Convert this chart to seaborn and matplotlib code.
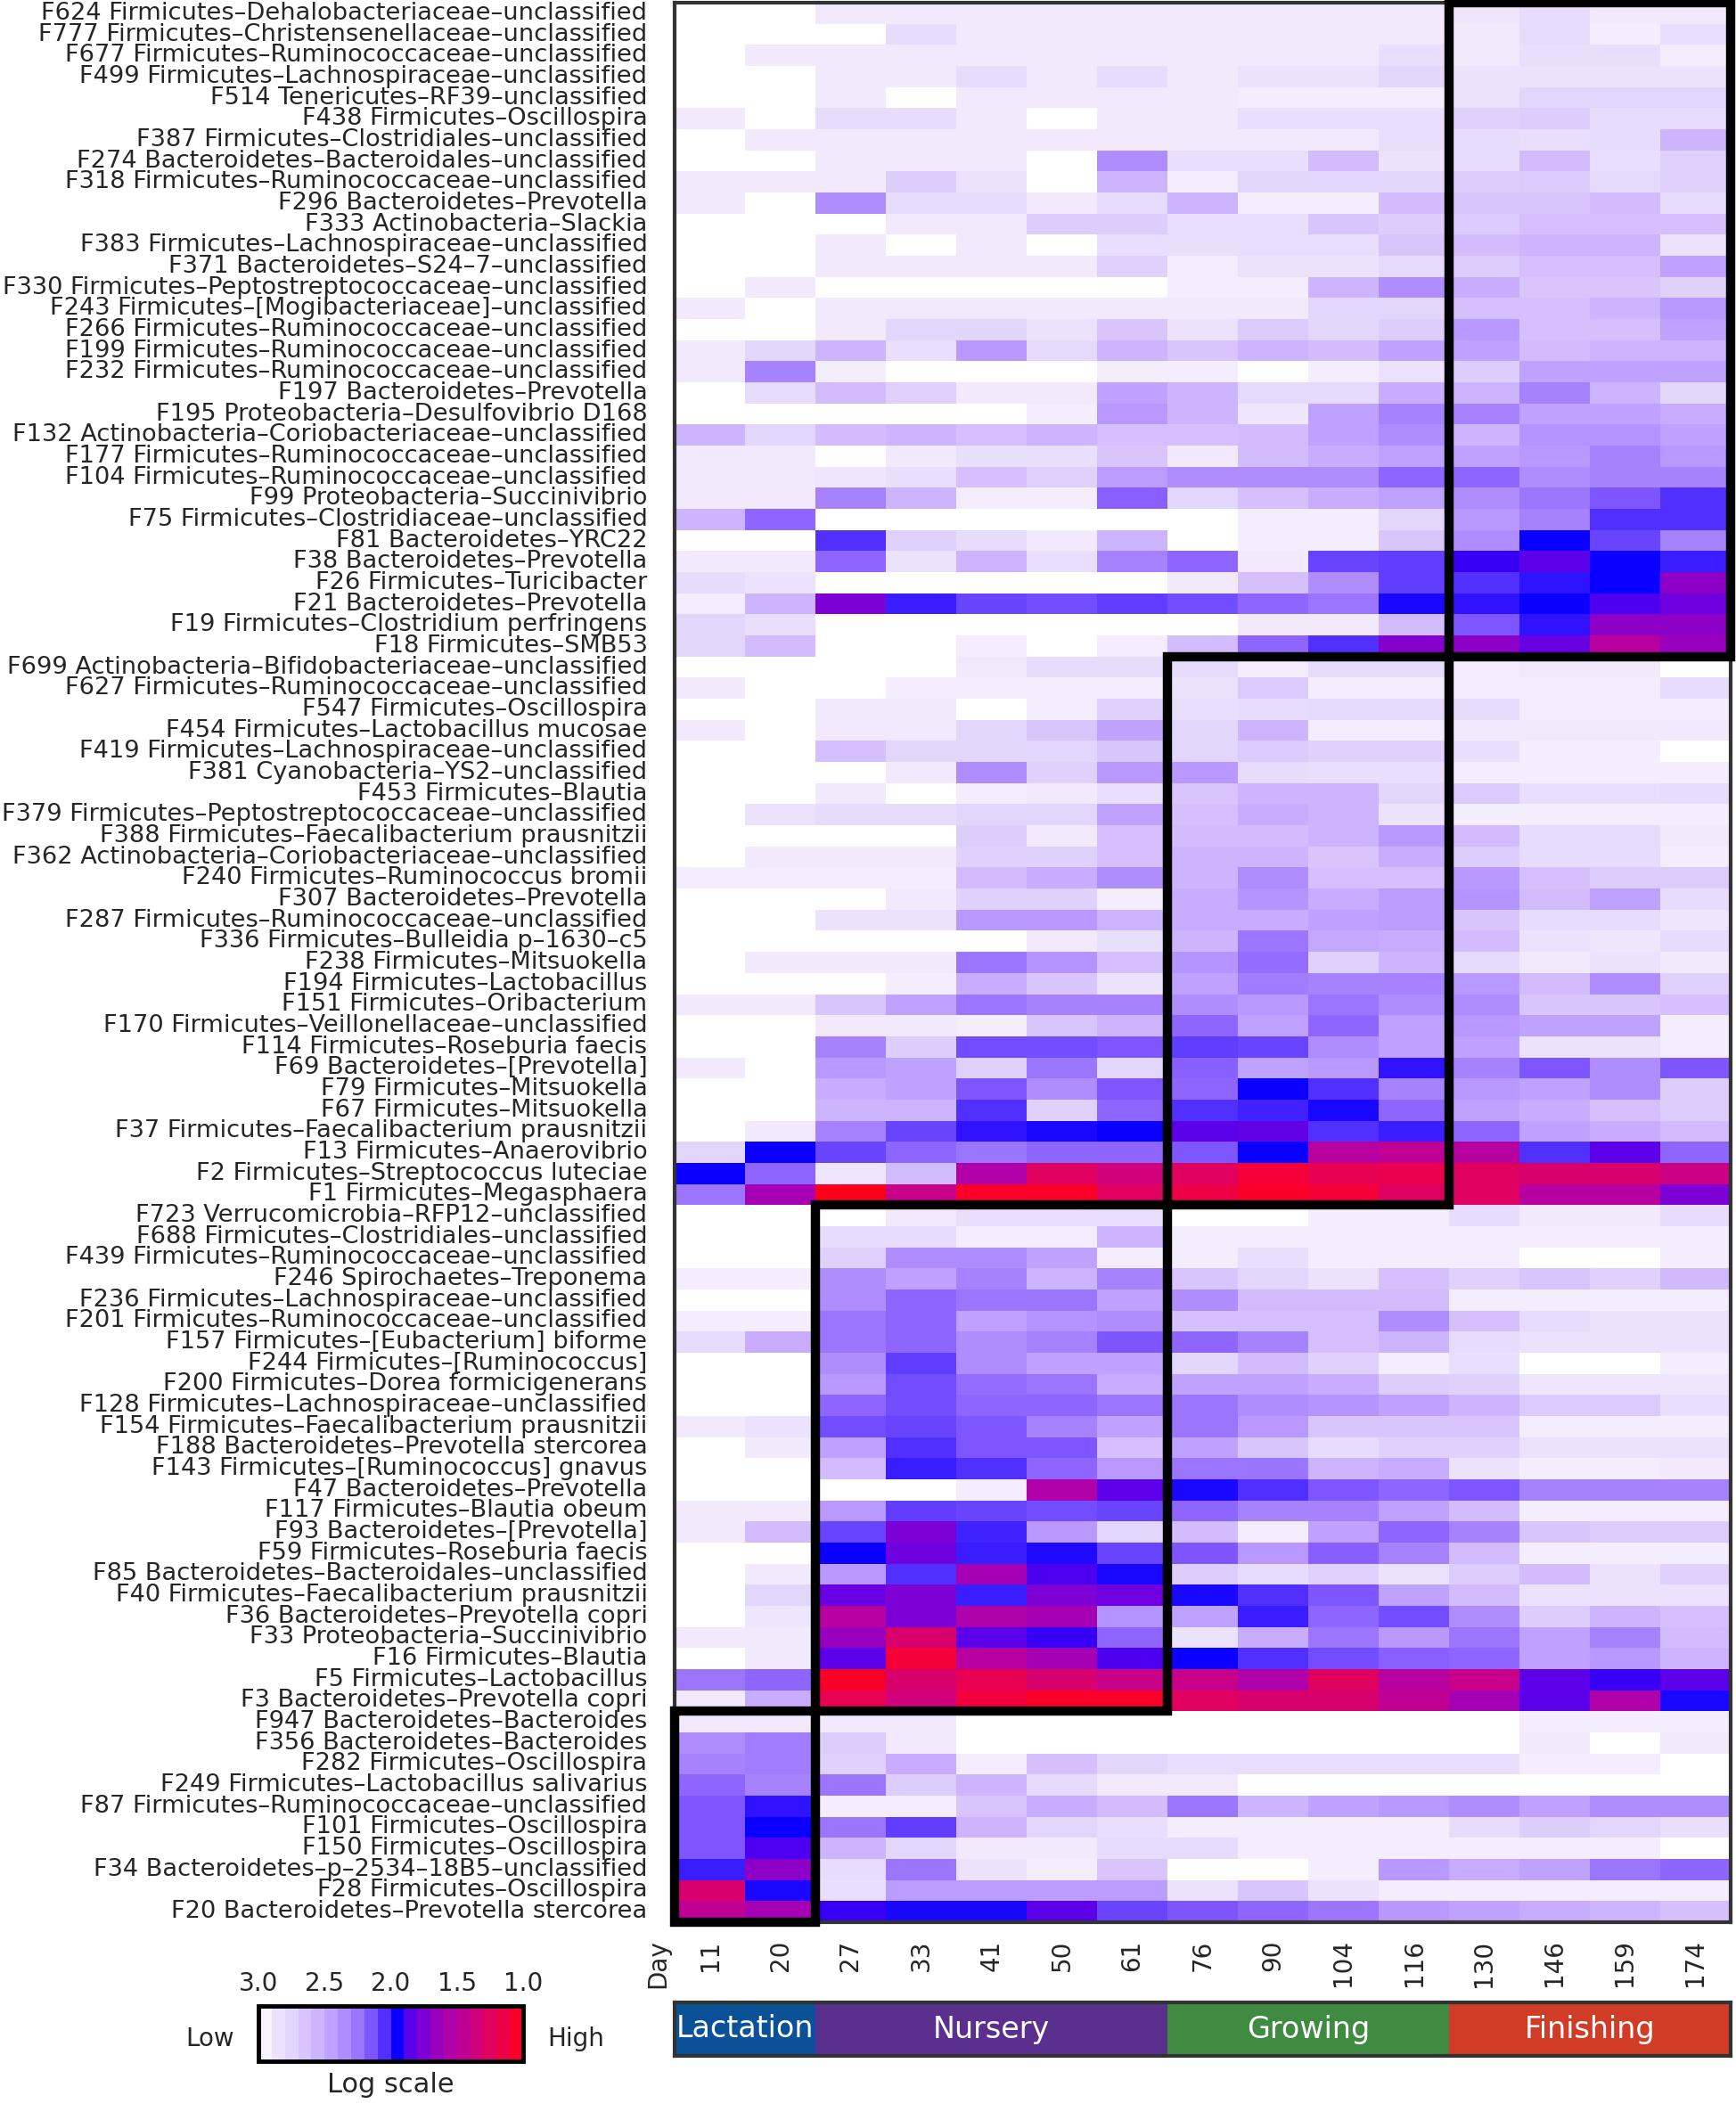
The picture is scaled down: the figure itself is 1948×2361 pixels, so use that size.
import numpy as np
import pandas as pd
import matplotlib
matplotlib.use("Agg")
import matplotlib.pyplot as plt
import seaborn as sns
from matplotlib.colors import LinearSegmentedColormap, ListedColormap, Normalize
from matplotlib.patches import Rectangle
from matplotlib.cm import ScalarMappable

days = [11, 20, 27, 33, 41, 50, 61, 76, 90, 104, 116, 130, 146, 159, 174]
stages = ["Lactation", "Nursery", "Growing", "Finishing"]
stage_ndays = [2, 5, 4, 4]
stage_colors = ["#0b5197", "#5a2f8e", "#3f8b42", "#d13c27"]

# log scale values (3.0 = low / white, 1.0 = high / red)
finishing_taxa = [
    "F624 Firmicutes–Dehalobacteriaceae–unclassified",
    "F777 Firmicutes–Christensenellaceae–unclassified",
    "F677 Firmicutes–Ruminococcaceae–unclassified",
    "F499 Firmicutes–Lachnospiraceae–unclassified",
    "F514 Tenericutes–RF39–unclassified",
    "F438 Firmicutes–Oscillospira",
    "F387 Firmicutes–Clostridiales–unclassified",
    "F274 Bacteroidetes–Bacteroidales–unclassified",
    "F318 Firmicutes–Ruminococcaceae–unclassified",
    "F296 Bacteroidetes–Prevotella",
    "F333 Actinobacteria–Slackia",
    "F383 Firmicutes–Lachnospiraceae–unclassified",
    "F371 Bacteroidetes–S24–7–unclassified",
    "F330 Firmicutes–Peptostreptococcaceae–unclassified",
    "F243 Firmicutes–[Mogibacteriaceae]–unclassified",
    "F266 Firmicutes–Ruminococcaceae–unclassified",
    "F199 Firmicutes–Ruminococcaceae–unclassified",
    "F232 Firmicutes–Ruminococcaceae–unclassified",
    "F197 Bacteroidetes–Prevotella",
    "F195 Proteobacteria–Desulfovibrio D168",
    "F132 Actinobacteria–Coriobacteriaceae–unclassified",
    "F177 Firmicutes–Ruminococcaceae–unclassified",
    "F104 Firmicutes–Ruminococcaceae–unclassified",
    "F99 Proteobacteria–Succinivibrio",
    "F75 Firmicutes–Clostridiaceae–unclassified",
    "F81 Bacteroidetes–YRC22",
    "F38 Bacteroidetes–Prevotella",
    "F26 Firmicutes–Turicibacter",
    "F21 Bacteroidetes–Prevotella",
    "F19 Firmicutes–Clostridium perfringens",
    "F18 Firmicutes–SMB53",
]
finishing_vals = [
    [3.0, 3.0, 2.9, 2.9, 2.9, 2.9, 2.9, 2.9, 2.9, 2.9, 2.9, 2.88, 2.8, 2.9, 2.9],
    [3.0, 3.0, 3.0, 2.8, 2.9, 2.9, 2.9, 2.9, 2.9, 2.9, 2.9, 2.9, 2.8, 2.92, 2.82],
    [3.0, 2.9, 2.9, 2.9, 2.9, 2.9, 2.9, 2.9, 2.9, 2.9, 2.82, 2.9, 2.82, 2.82, 2.92],
    [3.0, 3.0, 2.9, 2.9, 2.8, 2.9, 2.8, 2.9, 2.85, 2.85, 2.75, 2.85, 2.85, 2.85, 2.85],
    [3.0, 3.0, 2.9, 3.0, 2.9, 2.9, 2.9, 2.9, 2.92, 2.92, 2.92, 2.85, 2.75, 2.75, 2.75],
    [2.9, 3.0, 2.8, 2.8, 2.9, 3.0, 2.9, 2.9, 2.82, 2.82, 2.82, 2.72, 2.7, 2.8, 2.8],
    [3.0, 2.9, 2.9, 2.9, 2.9, 2.9, 2.9, 2.9, 2.9, 2.9, 2.82, 2.8, 2.82, 2.8, 2.55],
    [3.0, 3.0, 2.9, 2.9, 2.9, 3.0, 2.35, 2.82, 2.82, 2.6, 2.85, 2.8, 2.6, 2.82, 2.72],
    [2.9, 2.9, 2.9, 2.7, 2.85, 3.0, 2.55, 2.92, 2.75, 2.75, 2.75, 2.7, 2.68, 2.78, 2.72],
    [2.9, 3.0, 2.35, 2.8, 2.8, 2.9, 2.8, 2.55, 2.92, 2.92, 2.6, 2.65, 2.65, 2.6, 2.8],
    [3.0, 3.0, 3.0, 2.9, 2.9, 2.7, 2.7, 2.82, 2.82, 2.65, 2.7, 2.68, 2.62, 2.62, 2.62],
    [3.0, 3.0, 2.9, 3.0, 2.9, 3.0, 2.82, 2.82, 2.82, 2.82, 2.65, 2.6, 2.55, 2.55, 2.85],
    [3.0, 3.0, 2.9, 2.9, 2.9, 2.9, 2.72, 2.92, 2.85, 2.85, 2.78, 2.7, 2.62, 2.62, 2.45],
    [3.0, 2.9, 3.0, 3.0, 3.0, 3.0, 3.0, 2.92, 2.92, 2.55, 2.35, 2.5, 2.65, 2.65, 2.72],
    [2.9, 3.0, 2.9, 2.9, 2.9, 2.9, 2.9, 2.9, 2.9, 2.75, 2.75, 2.62, 2.62, 2.55, 2.4],
    [3.0, 3.0, 2.9, 2.75, 2.75, 2.85, 2.65, 2.85, 2.68, 2.75, 2.7, 2.4, 2.62, 2.62, 2.45],
    [2.9, 2.75, 2.55, 2.82, 2.4, 2.78, 2.55, 2.65, 2.55, 2.6, 2.45, 2.45, 2.6, 2.55, 2.55],
    [2.9, 2.3, 2.92, 3.0, 3.0, 3.0, 2.92, 2.92, 3.0, 2.92, 2.85, 2.7, 2.45, 2.45, 2.45],
    [3.0, 2.8, 2.6, 2.72, 2.9, 2.9, 2.45, 2.55, 2.78, 2.78, 2.5, 2.55, 2.3, 2.55, 2.75],
    [3.0, 3.0, 3.0, 3.0, 3.0, 2.92, 2.4, 2.55, 2.88, 2.45, 2.3, 2.3, 2.45, 2.45, 2.5],
    [2.55, 2.75, 2.6, 2.55, 2.62, 2.55, 2.62, 2.62, 2.6, 2.45, 2.35, 2.55, 2.38, 2.38, 2.45],
    [2.9, 2.9, 3.0, 2.9, 2.82, 2.82, 2.65, 2.9, 2.6, 2.5, 2.45, 2.45, 2.4, 2.3, 2.4],
    [2.9, 2.9, 2.88, 2.82, 2.62, 2.72, 2.42, 2.35, 2.35, 2.35, 2.2, 2.2, 2.35, 2.3, 2.3],
    [2.9, 2.9, 2.3, 2.55, 2.92, 2.92, 2.18, 2.75, 2.62, 2.5, 2.45, 2.35, 2.25, 2.15, 2.05],
    [2.55, 2.2, 3.0, 3.0, 3.0, 3.0, 3.0, 3.0, 2.92, 2.92, 2.75, 2.4, 2.3, 2.05, 2.05],
    [3.0, 3.0, 2.05, 2.72, 2.8, 2.9, 2.55, 3.0, 2.92, 2.92, 2.65, 2.35, 1.95, 2.1, 2.3],
    [2.9, 2.9, 2.2, 2.85, 2.55, 2.82, 2.3, 2.2, 2.9, 2.1, 2.08, 1.9, 1.85, 1.95, 2.02],
    [2.8, 2.85, 3.0, 3.0, 3.0, 3.0, 3.0, 2.9, 2.62, 2.35, 2.08, 2.05, 2.0, 1.95, 1.7],
    [2.92, 2.55, 1.75, 2.02, 2.1, 2.12, 2.08, 2.12, 2.2, 2.25, 1.97, 2.0, 1.95, 1.88, 1.8],
    [2.75, 2.82, 3.0, 3.0, 3.0, 3.0, 3.0, 3.0, 2.9, 2.9, 2.6, 2.15, 2.0, 1.7, 1.7],
    [2.75, 2.6, 3.0, 3.0, 2.92, 3.0, 2.92, 2.6, 2.2, 2.05, 1.72, 1.7, 1.82, 1.5, 1.65],
]

growing_taxa = [
    "F699 Actinobacteria–Bifidobacteriaceae–unclassified",
    "F627 Firmicutes–Ruminococcaceae–unclassified",
    "F547 Firmicutes–Oscillospira",
    "F454 Firmicutes–Lactobacillus mucosae",
    "F419 Firmicutes–Lachnospiraceae–unclassified",
    "F381 Cyanobacteria–YS2–unclassified",
    "F453 Firmicutes–Blautia",
    "F379 Firmicutes–Peptostreptococcaceae–unclassified",
    "F388 Firmicutes–Faecalibacterium prausnitzii",
    "F362 Actinobacteria–Coriobacteriaceae–unclassified",
    "F240 Firmicutes–Ruminococcus bromii",
    "F307 Bacteroidetes–Prevotella",
    "F287 Firmicutes–Ruminococcaceae–unclassified",
    "F336 Firmicutes–Bulleidia p–1630–c5",
    "F238 Firmicutes–Mitsuokella",
    "F194 Firmicutes–Lactobacillus",
    "F151 Firmicutes–Oribacterium",
    "F170 Firmicutes–Veillonellaceae–unclassified",
    "F114 Firmicutes–Roseburia faecis",
    "F69 Bacteroidetes–[Prevotella]",
    "F79 Firmicutes–Mitsuokella",
    "F67 Firmicutes–Mitsuokella",
    "F37 Firmicutes–Faecalibacterium prausnitzii",
    "F13 Firmicutes–Anaerovibrio",
    "F2 Firmicutes–Streptococcus luteciae",
    "F1 Firmicutes–Megasphaera",
]
growing_vals = [
    [3.0, 3.0, 3.0, 3.0, 2.9, 2.8, 2.8, 2.8, 2.92, 2.8, 2.8, 2.92, 2.9, 2.9, 3.0],
    [2.9, 3.0, 3.0, 2.92, 2.92, 2.92, 2.92, 2.85, 2.68, 2.92, 2.92, 2.92, 2.92, 2.92, 2.8],
    [3.0, 3.0, 2.9, 2.9, 3.0, 2.92, 2.72, 2.82, 2.8, 2.78, 2.78, 2.8, 2.92, 2.92, 2.92],
    [2.9, 3.0, 2.9, 2.9, 2.75, 2.65, 2.45, 2.75, 2.55, 2.92, 2.92, 2.9, 2.9, 2.9, 2.9],
    [3.0, 3.0, 2.62, 2.75, 2.75, 2.75, 2.65, 2.75, 2.68, 2.72, 2.72, 2.82, 2.92, 2.92, 3.0],
    [3.0, 3.0, 3.0, 2.9, 2.35, 2.72, 2.4, 2.4, 2.8, 2.82, 2.82, 2.92, 2.92, 2.92, 2.92],
    [3.0, 3.0, 2.9, 3.0, 2.92, 2.9, 2.82, 2.65, 2.55, 2.55, 2.75, 2.68, 2.82, 2.82, 2.8],
    [3.0, 2.85, 2.8, 2.8, 2.75, 2.75, 2.45, 2.62, 2.5, 2.55, 2.85, 2.92, 2.92, 2.92, 2.92],
    [3.0, 3.0, 3.0, 3.0, 2.7, 2.9, 2.62, 2.6, 2.6, 2.55, 2.4, 2.6, 2.8, 2.8, 2.9],
    [3.0, 2.9, 2.9, 2.9, 2.72, 2.72, 2.62, 2.55, 2.55, 2.65, 2.5, 2.7, 2.8, 2.8, 2.92],
    [2.92, 2.92, 2.92, 2.92, 2.6, 2.5, 2.35, 2.55, 2.35, 2.62, 2.62, 2.4, 2.62, 2.7, 2.7],
    [3.0, 3.0, 3.0, 2.9, 2.72, 2.72, 2.92, 2.5, 2.38, 2.5, 2.42, 2.38, 2.6, 2.45, 2.8],
    [3.0, 3.0, 2.85, 2.85, 2.4, 2.4, 2.55, 2.5, 2.5, 2.45, 2.42, 2.65, 2.8, 2.8, 2.88],
    [3.0, 3.0, 3.0, 3.0, 3.0, 2.9, 2.82, 2.55, 2.25, 2.48, 2.5, 2.6, 2.85, 2.88, 2.8],
    [3.0, 2.9, 2.9, 2.9, 2.25, 2.38, 2.62, 2.38, 2.22, 2.72, 2.55, 2.78, 2.9, 2.85, 2.9],
    [3.0, 3.0, 3.0, 2.92, 2.5, 2.65, 2.85, 2.45, 2.28, 2.3, 2.3, 2.4, 2.6, 2.35, 2.72],
    [2.9, 2.9, 2.65, 2.45, 2.25, 2.3, 2.3, 2.35, 2.4, 2.25, 2.35, 2.35, 2.65, 2.65, 2.62],
    [3.0, 3.0, 2.9, 2.9, 2.92, 2.65, 2.55, 2.2, 2.45, 2.2, 2.45, 2.4, 2.45, 2.45, 2.92],
    [3.0, 3.0, 2.3, 2.7, 2.12, 2.12, 2.15, 2.08, 2.1, 2.35, 2.45, 2.45, 2.85, 2.85, 2.92],
    [2.9, 3.0, 2.4, 2.45, 2.72, 2.25, 2.75, 2.18, 2.45, 2.4, 2.0, 2.3, 2.15, 2.35, 2.15],
    [3.0, 3.0, 2.5, 2.45, 2.15, 2.35, 2.15, 2.2, 1.95, 2.05, 2.3, 2.4, 2.45, 2.35, 2.7],
    [3.0, 3.0, 2.55, 2.55, 2.05, 2.72, 2.2, 2.05, 2.03, 1.97, 2.2, 2.45, 2.5, 2.62, 2.7],
    [3.0, 2.9, 2.3, 2.1, 2.0, 1.97, 1.95, 1.85, 1.83, 2.05, 2.02, 2.2, 2.45, 2.5, 2.6],
    [2.75, 1.95, 2.1, 2.2, 2.25, 2.2, 2.2, 2.15, 1.95, 1.5, 1.45, 1.5, 2.05, 1.85, 2.2],
    [1.95, 2.2, 2.88, 2.6, 1.55, 1.25, 1.35, 1.25, 1.1, 1.2, 1.18, 1.25, 1.3, 1.3, 1.38],
    [2.25, 1.6, 1.0, 1.4, 1.05, 1.05, 1.25, 1.15, 1.05, 1.1, 1.25, 1.25, 1.5, 1.5, 1.75],
]

nursery_taxa = [
    "F723 Verrucomicrobia–RFP12–unclassified",
    "F688 Firmicutes–Clostridiales–unclassified",
    "F439 Firmicutes–Ruminococcaceae–unclassified",
    "F246 Spirochaetes–Treponema",
    "F236 Firmicutes–Lachnospiraceae–unclassified",
    "F201 Firmicutes–Ruminococcaceae–unclassified",
    "F157 Firmicutes–[Eubacterium] biforme",
    "F244 Firmicutes–[Ruminococcus]",
    "F200 Firmicutes–Dorea formicigenerans",
    "F128 Firmicutes–Lachnospiraceae–unclassified",
    "F154 Firmicutes–Faecalibacterium prausnitzii",
    "F188 Bacteroidetes–Prevotella stercorea",
    "F143 Firmicutes–[Ruminococcus] gnavus",
    "F47 Bacteroidetes–Prevotella",
    "F117 Firmicutes–Blautia obeum",
    "F93 Bacteroidetes–[Prevotella]",
    "F59 Firmicutes–Roseburia faecis",
    "F85 Bacteroidetes–Bacteroidales–unclassified",
    "F40 Firmicutes–Faecalibacterium prausnitzii",
    "F36 Bacteroidetes–Prevotella copri",
    "F33 Proteobacteria–Succinivibrio",
    "F16 Firmicutes–Blautia",
    "F5 Firmicutes–Lactobacillus",
    "F3 Bacteroidetes–Prevotella copri",
]
nursery_vals = [
    [3.0, 3.0, 3.0, 2.9, 2.82, 2.82, 2.82, 3.0, 3.0, 2.92, 2.92, 2.8, 2.9, 2.9, 2.8],
    [3.0, 3.0, 2.8, 2.8, 2.92, 2.92, 2.55, 2.92, 2.92, 2.92, 2.92, 2.92, 2.92, 2.92, 2.92],
    [3.0, 3.0, 2.72, 2.35, 2.35, 2.45, 2.92, 2.92, 2.82, 2.92, 2.92, 2.92, 3.0, 3.0, 2.92],
    [2.92, 2.92, 2.35, 2.45, 2.3, 2.55, 2.3, 2.65, 2.75, 2.85, 2.62, 2.72, 2.65, 2.72, 2.58],
    [3.0, 3.0, 2.35, 2.2, 2.25, 2.25, 2.45, 2.35, 2.6, 2.6, 2.6, 2.92, 2.92, 2.92, 2.92],
    [2.92, 2.92, 2.25, 2.2, 2.45, 2.38, 2.35, 2.62, 2.62, 2.62, 2.35, 2.62, 2.8, 2.85, 2.85],
    [2.8, 2.5, 2.25, 2.2, 2.35, 2.3, 2.15, 2.2, 2.3, 2.62, 2.55, 2.8, 2.85, 2.85, 2.85],
    [3.0, 3.0, 2.35, 2.08, 2.35, 2.45, 2.45, 2.75, 2.6, 2.72, 2.92, 2.82, 3.0, 3.0, 2.92],
    [3.0, 3.0, 2.4, 2.12, 2.22, 2.25, 2.5, 2.45, 2.45, 2.5, 2.7, 2.72, 2.88, 2.88, 2.88],
    [3.0, 3.0, 2.2, 2.12, 2.2, 2.2, 2.25, 2.25, 2.35, 2.38, 2.45, 2.55, 2.68, 2.68, 2.82],
    [2.9, 2.85, 2.12, 2.1, 2.15, 2.3, 2.45, 2.25, 2.4, 2.65, 2.65, 2.65, 2.92, 2.92, 2.92],
    [3.0, 2.9, 2.45, 2.05, 2.15, 2.15, 2.62, 2.45, 2.65, 2.8, 2.72, 2.72, 2.85, 2.85, 2.85],
    [3.0, 3.0, 2.6, 2.02, 2.05, 2.2, 2.4, 2.25, 2.25, 2.55, 2.5, 2.85, 2.92, 2.92, 2.9],
    [3.0, 3.0, 3.0, 3.0, 2.92, 1.55, 1.85, 1.97, 2.05, 2.15, 2.2, 2.15, 2.3, 2.3, 2.3],
    [2.9, 2.9, 2.4, 2.08, 2.1, 2.12, 2.1, 2.2, 2.3, 2.3, 2.45, 2.6, 2.92, 2.92, 2.92],
    [2.9, 2.6, 2.1, 1.75, 2.03, 2.4, 2.75, 2.6, 2.92, 2.45, 2.2, 2.3, 2.65, 2.7, 2.7],
    [3.0, 3.0, 1.95, 1.8, 2.02, 1.98, 2.1, 2.15, 2.4, 2.18, 2.3, 2.6, 2.92, 2.92, 2.92],
    [3.0, 2.9, 2.4, 2.05, 1.6, 1.88, 1.97, 2.7, 2.8, 2.72, 2.85, 2.7, 2.6, 2.85, 2.72],
    [3.0, 2.75, 1.82, 1.75, 2.02, 1.75, 1.8, 1.97, 2.05, 2.15, 2.45, 2.6, 2.85, 2.85, 2.85],
    [3.0, 2.88, 1.5, 1.75, 1.55, 1.6, 2.38, 2.45, 2.02, 2.2, 2.12, 2.35, 2.7, 2.55, 2.62],
    [2.9, 2.9, 1.65, 1.3, 1.85, 1.9, 2.2, 2.85, 2.5, 2.25, 2.4, 2.25, 2.45, 2.3, 2.6],
    [3.0, 2.9, 1.85, 1.1, 1.5, 1.6, 1.88, 1.95, 2.05, 2.12, 2.18, 2.2, 2.45, 2.4, 2.55],
    [2.25, 2.2, 1.05, 1.3, 1.2, 1.3, 1.4, 1.4, 1.55, 1.25, 1.5, 1.4, 1.85, 1.9, 1.85],
    [2.9, 2.5, 1.2, 1.35, 1.12, 1.05, 1.05, 1.25, 1.3, 1.3, 1.45, 1.6, 1.85, 1.55, 1.97],
]

lactation_taxa = [
    "F947 Bacteroidetes–Bacteroides",
    "F356 Bacteroidetes–Bacteroides",
    "F282 Firmicutes–Oscillospira",
    "F249 Firmicutes–Lactobacillus salivarius",
    "F87 Firmicutes–Ruminococcaceae–unclassified",
    "F101 Firmicutes–Oscillospira",
    "F150 Firmicutes–Oscillospira",
    "F34 Bacteroidetes–p–2534–18B5–unclassified",
    "F28 Firmicutes–Oscillospira",
    "F20 Bacteroidetes–Prevotella stercorea",
]
lactation_vals = [
    [2.9, 2.9, 2.9, 2.9, 3.0, 3.0, 3.0, 3.0, 3.0, 3.0, 3.0, 3.0, 2.92, 2.92, 2.92],
    [2.35, 2.28, 2.7, 2.9, 3.0, 3.0, 3.0, 3.0, 3.0, 3.0, 3.0, 3.0, 2.9, 3.0, 2.9],
    [2.3, 2.28, 2.72, 2.5, 2.92, 2.62, 2.75, 2.82, 2.82, 2.82, 2.82, 2.82, 2.92, 2.92, 3.0],
    [2.2, 2.3, 2.25, 2.7, 2.55, 2.78, 2.9, 2.9, 3.0, 3.0, 3.0, 3.0, 3.0, 3.0, 3.0],
    [2.15, 2.0, 2.92, 2.92, 2.65, 2.5, 2.6, 2.25, 2.55, 2.45, 2.4, 2.35, 2.45, 2.35, 2.35],
    [2.15, 1.95, 2.25, 2.08, 2.55, 2.75, 2.82, 2.92, 2.92, 2.92, 2.92, 2.8, 2.7, 2.75, 2.82],
    [2.15, 1.88, 2.55, 2.75, 2.9, 2.9, 2.8, 2.8, 2.92, 2.92, 2.92, 2.92, 2.92, 2.92, 3.0],
    [2.02, 1.7, 2.8, 2.25, 2.85, 2.92, 2.65, 3.0, 3.0, 2.92, 2.4, 2.5, 2.45, 2.25, 2.2],
    [1.3, 1.97, 2.82, 2.42, 2.42, 2.42, 2.42, 2.85, 2.65, 2.85, 2.92, 2.92, 2.92, 2.92, 2.92],
    [1.45, 1.6, 1.9, 1.97, 1.97, 1.85, 2.1, 2.15, 2.2, 2.25, 2.4, 2.45, 2.5, 2.55, 2.62],
]

# clusters top to bottom, with the stage each one is boxed under
clusters = [
    (finishing_taxa, finishing_vals, "Finishing"),
    (growing_taxa, growing_vals, "Growing"),
    (nursery_taxa, nursery_vals, "Nursery"),
    (lactation_taxa, lactation_vals, "Lactation"),
]

# colour ramp: red (1.0) -> magenta -> purple -> blue (2.0) -> lavender -> white (3.0)
ramp = [
    (1.00, "#ff0018"), (1.10, "#f5003a"), (1.25, "#e00060"), (1.40, "#c8008a"),
    (1.55, "#b000aa"), (1.70, "#8c00c8"), (1.80, "#7000e0"), (1.88, "#4c00f0"),
    (1.95, "#0a00ff"), (2.00, "#2c10ff"), (2.05, "#5030ff"), (2.10, "#6a45ff"),
    (2.20, "#8f65ff"), (2.30, "#a682ff"), (2.40, "#b898ff"), (2.50, "#c6abff"),
    (2.60, "#d2bcfd"), (2.70, "#ddcdfc"), (2.80, "#e7dcfc"), (2.90, "#f1e8fd"),
    (3.00, "#ffffff"),
]
cmap = LinearSegmentedColormap.from_list(
    "logscale", [((v - 1.0) / 2.0, c) for v, c in ramp])

sns.set_style("white")
plt.rcParams["font.family"] = ["DejaVu Sans"]

taxa = [t for c in clusters for t in c[0]]
vals = [r for c in clusters for r in c[1]]
df = pd.DataFrame(vals, index=taxa, columns=days)

W, H = 1948, 2361
fig = plt.figure(figsize=(W / 100, H / 100), dpi=100)

def fig_rect(x0, y0, x1, y1):
    return [x0 / W, 1 - y1 / H, (x1 - x0) / W, (y1 - y0) / H]

ax = fig.add_axes(fig_rect(757, 3, 1942, 2157))
sns.heatmap(df, ax=ax, cmap=cmap, vmin=1.0, vmax=3.0, cbar=False,
            xticklabels=True, yticklabels=True, linewidths=0)
ax.set_xlabel("")
ax.set_ylabel("")
ax.set_yticklabels(taxa, rotation=0, fontsize=19.6)
ax.set_xticklabels([str(d) for d in days], rotation=90, fontsize=20)
ax.tick_params(axis="y", length=0, pad=22)
ax.tick_params(axis="x", length=0, pad=14)
for s in ax.spines.values():
    s.set_visible(True)
    s.set_color("#333333")
    s.set_linewidth(3)

# black boxes: each cluster under its stage's days
stage_start = dict(zip(stages, np.cumsum([0] + stage_ndays[:-1])))
stage_width = dict(zip(stages, stage_ndays))
row0 = 0
for ctaxa, _, stage in clusters:
    ax.add_patch(Rectangle((stage_start[stage], row0), stage_width[stage], len(ctaxa),
                           fill=False, edgecolor="black", linewidth=7.5,
                           joinstyle="miter", clip_on=False, zorder=5))
    row0 += len(ctaxa)

fig.text(738 / W, 1 - 2176 / H, "Day", rotation=90, ha="center", va="top", fontsize=20)

# stage bar
sax = fig.add_axes(fig_rect(757, 2247, 1942, 2307))
left = 0
for name, n, col in zip(stages, stage_ndays, stage_colors):
    sax.barh(0, n, left=left, height=1, color=col, edgecolor="none")
    sax.text(left + n / 2, 0, name, color="white", ha="center", va="center", fontsize=24)
    left += n
sax.set_xlim(0, len(days))
sax.set_ylim(-0.5, 0.5)
sax.set_xticks([])
sax.set_yticks([])
for s in sax.spines.values():
    s.set_color("#333333")
    s.set_linewidth(3)

# colour key
cax = fig.add_axes(fig_rect(290, 2251, 587, 2313))
steps = ListedColormap(cmap(np.linspace(0.025, 0.975, 20)))
sm = ScalarMappable(norm=Normalize(1.0, 3.0), cmap=steps)
cb = fig.colorbar(sm, cax=cax, orientation="horizontal")
cax.invert_xaxis()
cb.set_ticks([3.0, 2.5, 2.0, 1.5, 1.0])
cb.set_ticklabels(["3.0", "2.5", "2.0", "1.5", "1.0"])
cax.xaxis.set_ticks_position("both")
cax.tick_params(axis="x", direction="in", length=14, width=1.5, top=True, bottom=True,
                labeltop=True, labelbottom=False, labelsize=20, pad=8)
cb.outline.set_linewidth(3.5)
cb.outline.set_edgecolor("black")

fig.text(263 / W, 1 - 2288 / H, "Low", ha="right", va="center", fontsize=20)
fig.text(614 / W, 1 - 2288 / H, "High", ha="left", va="center", fontsize=20)
fig.text(438 / W, 1 - 2340 / H, "Log scale", ha="center", va="center", fontsize=22)

fig.savefig("out.png", dpi=100)
